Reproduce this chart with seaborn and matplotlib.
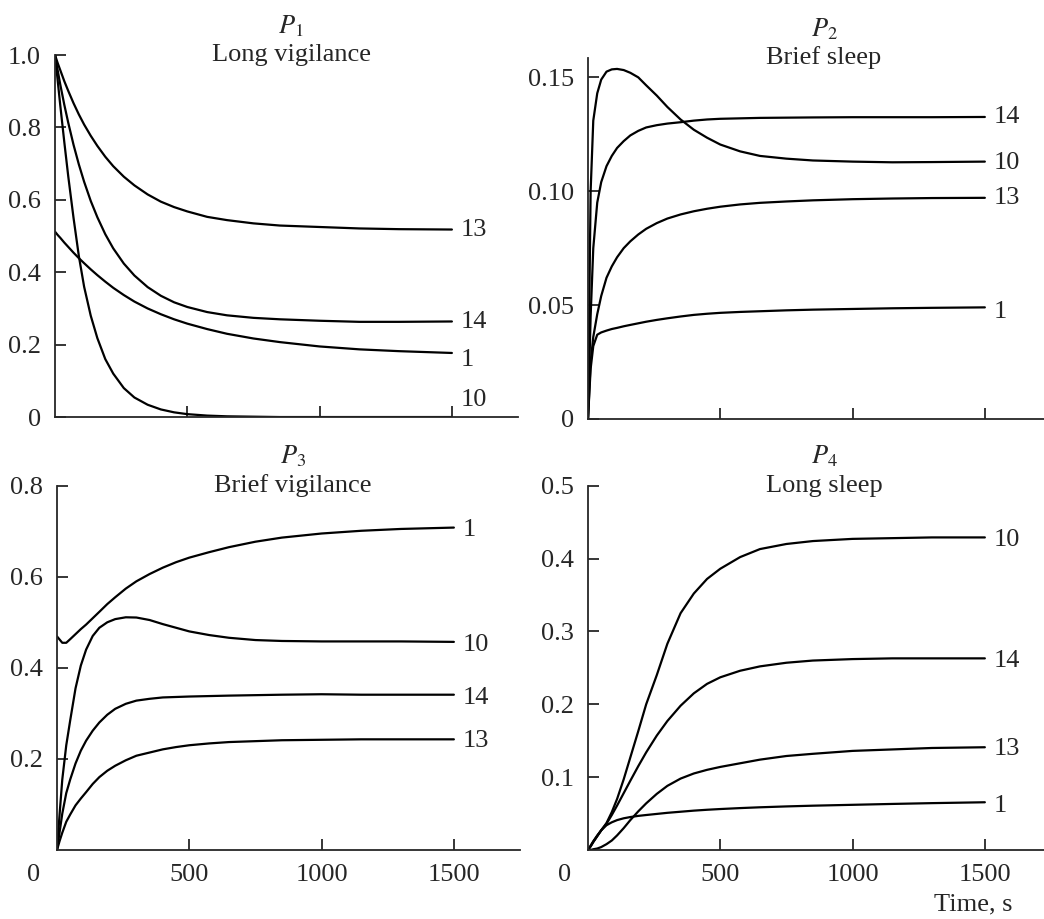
import numpy as np
import pandas as pd
import seaborn as sns
import matplotlib
matplotlib.use("Agg")
import matplotlib.pyplot as plt

# time grid (s) shared by all curves
time = [0, 10, 20, 35, 50, 70, 90, 110, 135, 160, 190, 220, 260, 300, 350,
        400, 450, 500, 575, 650, 750, 850, 1000, 1150, 1300, 1500]

# P1 - long vigilance
p1_13 = [1.0, 0.978, 0.958, 0.928, 0.901, 0.867, 0.836, 0.808, 0.777, 0.749, 0.719, 0.693, 0.664,
         0.640, 0.615, 0.595, 0.580, 0.568, 0.553, 0.544, 0.535, 0.529, 0.525, 0.521, 0.519, 0.518]
p1_14 = [1.0, 0.958, 0.918, 0.863, 0.813, 0.752, 0.698, 0.650, 0.597, 0.552, 0.505, 0.466, 0.424,
         0.391, 0.359, 0.335, 0.317, 0.304, 0.290, 0.281, 0.274, 0.270, 0.266, 0.263, 0.263, 0.264]
p1_1 = [0.512, 0.503, 0.495, 0.482, 0.470, 0.454, 0.439, 0.425, 0.408, 0.392, 0.374, 0.357, 0.337,
        0.319, 0.300, 0.284, 0.270, 0.258, 0.243, 0.230, 0.217, 0.207, 0.195, 0.187, 0.182, 0.177]
p1_10 = [1.0, 0.93, 0.86, 0.76, 0.665, 0.55, 0.445, 0.36, 0.28, 0.218, 0.16, 0.12, 0.08,
         0.054, 0.034, 0.021, 0.013, 0.008, 0.004, 0.002, 0.001, 0.0, 0.0, 0.0, 0.0, 0.0]

# P2 - brief sleep
p2_10 = [0.0, 0.10, 0.131, 0.143, 0.149, 0.1525, 0.1535, 0.1537, 0.1532, 0.152, 0.150, 0.1465, 0.142,
         0.137, 0.1315, 0.127, 0.1235, 0.1205, 0.1175, 0.1155, 0.1143, 0.1135, 0.113, 0.1127, 0.1128, 0.113]
p2_14 = [0.0, 0.045, 0.075, 0.095, 0.104, 0.111, 0.1155, 0.119, 0.122, 0.1245, 0.1265, 0.128, 0.129,
         0.1297, 0.1303, 0.131, 0.1315, 0.1318, 0.132, 0.1322, 0.1323, 0.1324, 0.1325, 0.1325, 0.1325, 0.1326]
p2_13 = [0.0, 0.025, 0.036, 0.046, 0.054, 0.062, 0.067, 0.071, 0.075, 0.078, 0.081, 0.0835, 0.086,
         0.088, 0.0898, 0.0912, 0.0923, 0.0932, 0.0942, 0.0949, 0.0955, 0.096, 0.0965, 0.0968, 0.097, 0.0971]
p2_1 = [0.0, 0.022, 0.032, 0.037, 0.038, 0.0388, 0.0395, 0.040, 0.0407, 0.0413, 0.042, 0.0427, 0.0435,
        0.0442, 0.045, 0.0457, 0.0462, 0.0466, 0.047, 0.0473, 0.0477, 0.048, 0.0483, 0.0486, 0.0488, 0.049]

# P3 - brief vigilance
p3_1 = [0.469, 0.462, 0.455, 0.455, 0.463, 0.474, 0.485, 0.495, 0.509, 0.523, 0.540, 0.555, 0.574,
        0.590, 0.606, 0.620, 0.632, 0.642, 0.654, 0.665, 0.677, 0.686, 0.695, 0.701, 0.705, 0.708]
p3_10 = [0.0, 0.08, 0.155, 0.23, 0.285, 0.355, 0.405, 0.44, 0.47, 0.488, 0.500, 0.507, 0.511,
         0.5105, 0.505, 0.496, 0.488, 0.480, 0.472, 0.466, 0.461, 0.459, 0.458, 0.458, 0.458, 0.457]
p3_14 = [0.0, 0.04, 0.08, 0.125, 0.155, 0.19, 0.218, 0.24, 0.262, 0.28, 0.297, 0.31, 0.321,
         0.328, 0.332, 0.335, 0.336, 0.337, 0.338, 0.339, 0.340, 0.341, 0.342, 0.341, 0.341, 0.341]
p3_13 = [0.0, 0.02, 0.038, 0.062, 0.078, 0.098, 0.113, 0.127, 0.145, 0.160, 0.174, 0.185, 0.197,
         0.207, 0.214, 0.221, 0.226, 0.230, 0.234, 0.237, 0.239, 0.241, 0.242, 0.243, 0.243, 0.243]

# P4 - long sleep
p4_10 = [0.0, 0.005, 0.011, 0.019, 0.027, 0.037, 0.052, 0.07, 0.097, 0.127, 0.163, 0.200, 0.240,
         0.283, 0.325, 0.352, 0.372, 0.386, 0.402, 0.413, 0.420, 0.424, 0.427, 0.428, 0.429, 0.429]
p4_14 = [0.0, 0.005, 0.011, 0.019, 0.027, 0.036, 0.048, 0.061, 0.078, 0.095, 0.115, 0.134, 0.157,
         0.177, 0.198, 0.215, 0.228, 0.237, 0.246, 0.252, 0.257, 0.260, 0.262, 0.263, 0.263, 0.263]
p4_13 = [0.0, 0.0, 0.001, 0.002, 0.004, 0.008, 0.013, 0.02, 0.03, 0.041, 0.053, 0.064, 0.077,
         0.088, 0.098, 0.105, 0.110, 0.114, 0.119, 0.124, 0.129, 0.132, 0.136, 0.138, 0.140, 0.141]
p4_1 = [0.0, 0.006, 0.012, 0.02, 0.027, 0.034, 0.038, 0.041, 0.0435, 0.0452, 0.0468, 0.048, 0.0495,
        0.051, 0.0525, 0.054, 0.0552, 0.0562, 0.0575, 0.0586, 0.0598, 0.0608, 0.062, 0.0632, 0.0643, 0.0655]

panels = [
    dict(name="1", title="Long vigilance", curves={"13": p1_13, "14": p1_14, "1": p1_1, "10": p1_10},
         label_y={"13": 0.517, "14": 0.263, "1": 0.157, "10": 0.047},
         yticks=[0, 0.2, 0.4, 0.6, 0.8, 1.0], ylabels=["0", "0.2", "0.4", "0.6", "0.8", "1.0"], ylim=1.0),
    dict(name="2", title="Brief sleep", curves={"10": p2_10, "14": p2_14, "13": p2_13, "1": p2_1},
         label_y={"14": 0.1326, "10": 0.1124, "13": 0.0971, "1": 0.047},
         yticks=[0, 0.05, 0.10, 0.15], ylabels=["0", "0.05", "0.10", "0.15"], ylim=0.1585),
    dict(name="3", title="Brief vigilance", curves={"1": p3_1, "10": p3_10, "14": p3_14, "13": p3_13},
         label_y={"1": 0.703, "10": 0.45, "14": 0.334, "13": 0.239},
         yticks=[0.2, 0.4, 0.6, 0.8], ylabels=["0.2", "0.4", "0.6", "0.8"], ylim=0.8),
    dict(name="4", title="Long sleep", curves={"10": p4_10, "14": p4_14, "13": p4_13, "1": p4_1},
         label_y={"10": 0.425, "14": 0.26, "13": 0.138, "1": 0.06},
         yticks=[0.1, 0.2, 0.3, 0.4, 0.5], ylabels=["0.1", "0.2", "0.3", "0.4", "0.5"], ylim=0.5),
]

sns.set_style("ticks")
plt.rcParams["font.family"] = ["Liberation Serif", "DejaVu Serif"]
plt.rcParams["mathtext.fontset"] = "stix"

FS = 19
fig = plt.figure(figsize=(10.44, 9.19), dpi=100)
positions = [
    [0.0527, 0.5462, 0.4435, 0.3939],
    [0.5632, 0.5441, 0.4435, 0.3928],
    [0.0546, 0.0751, 0.4435, 0.3964],
    [0.5632, 0.0751, 0.4435, 0.3964],
]

for i, (p, pos) in enumerate(zip(panels, positions)):
    ax = fig.add_axes(pos)
    for key, vals in p["curves"].items():
        df = pd.DataFrame({"t": time, "v": vals})
        sns.lineplot(data=df, x="t", y="v", ax=ax, color="black", lw=1.6, sort=False)
        ax.text(1535, p["label_y"][key], key, ha="left", va="center", fontsize=FS)
    ax.set_xlim(0, 1750)
    ax.set_ylim(0, p["ylim"])
    ax.set_xticks([500, 1000, 1500])
    ax.set_yticks(p["yticks"])
    ax.set_yticklabels(p["ylabels"])
    ax.set_xlabel("")
    ax.set_ylabel("")
    sns.despine(ax=ax)
    for s in ["left", "bottom"]:
        ax.spines[s].set_linewidth(1.3)
    ax.tick_params(direction="in", length=8, width=1.3, labelsize=FS, pad=10)
    if i < 2:
        ax.tick_params(axis="x", labelbottom=False)
    else:
        ax.annotate("0", xy=(0, 0), xycoords="data", xytext=(-17, -18),
                    textcoords="offset points", ha="center", va="center", fontsize=FS)
    ax.text(0.51, 1.0, p["title"], transform=ax.transAxes, ha="center", va="center", fontsize=FS)
    ax.annotate(rf"$P_{p['name']}$", xy=(0.51, 1.0), xycoords="axes fraction", xytext=(0, 21),
                textcoords="offset points", ha="center", va="center", fontsize=FS)
    if i == 3:
        ax.annotate("Time, s", xy=(1455, 0), xycoords="data", xytext=(0, -39),
                    textcoords="offset points", ha="center", va="center", fontsize=FS)

fig.savefig("out.png", dpi=100)
